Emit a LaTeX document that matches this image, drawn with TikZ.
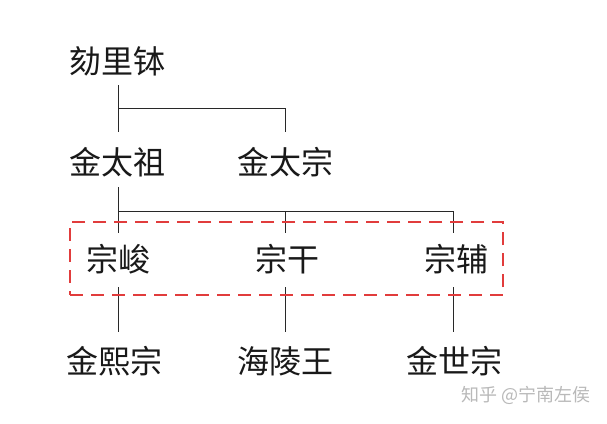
\documentclass[tikz,border=0pt]{standalone}
\usepackage{fontspec}
\newfontfamily\cjk{Noto Sans CJK SC}
\definecolor{treeline}{RGB}{40,40,40}
\definecolor{boxred}{RGB}{225,60,60}
\definecolor{wmgray}{RGB}{185,185,185}
\begin{document}
\begin{tikzpicture}[x=1pt,y=-1pt,
  person/.style={font=\cjk\fontsize{32}{32}\selectfont, inner sep=0pt, text=black!90},
  tree/.style={draw=treeline, line width=1pt},
  groupbox/.style={draw=boxred, line width=1.1pt, dash pattern=on 13pt off 8pt},
  wmark/.style={font=\cjk\fontsize{18}{18}\selectfont, text=wmgray, inner sep=0pt}]
\useasboundingbox (0,0) rectangle (607,423);
\fill[white] (0,0) rectangle (607,423);
% people
\node[person] (helibo)  at (117,61)  {劾里钵};
\node[person] (taizu)   at (117.5,162) {金太祖};
\node[person] (taizong) at (285.5,162) {金太宗};
\node[person] (zongjun) at (118.5,259) {宗峻};
\node[person] (zonggan) at (287,259) {宗干};
\node[person] (zongfu)  at (456,259) {宗辅};
\node[person] (xizong)  at (114,361) {金熙宗};
\node[person] (hailing) at (285,361) {海陵王};
\node[person] (shizong) at (454,361) {金世宗};
% junctions
\coordinate (j1) at (118,108);
\coordinate (j1r) at (285,108);
\coordinate (j2) at (118,211);
\coordinate (j2m) at (285,211);
\coordinate (j2r) at (453,211);
\coordinate (t1) at (118,85);
\coordinate (e1) at (118,132);
\coordinate (e1r) at (285,132);
\coordinate (t2) at (118,187);
\coordinate (e2) at (118,233);
\coordinate (e2m) at (285,233);
\coordinate (e2r) at (453,233);
\coordinate (t3) at (118,287);
\coordinate (t3m) at (285,287);
\coordinate (t3r) at (453,287);
\coordinate (e3) at (118,332);
\coordinate (e3m) at (285,332);
\coordinate (e3r) at (453,332);
% tree lines
\draw[tree] (t1) -- (e1);
\draw[tree] (j1) -- (j1r) -- (e1r);
\draw[tree] (t2) -- (e2);
\draw[tree] (j2) -- (j2r) -- (e2r);
\draw[tree] (j2m) -- (e2m);
\draw[tree] (t3) -- (e3);
\draw[tree] (t3m) -- (e3m);
\draw[tree] (t3r) -- (e3r);
% dashed group box
\node[groupbox, minimum width=433pt, minimum height=73pt, inner sep=0pt] (box) at (286.5,258.5) {};
% watermark
\node[wmark] (wm) at (526,395) {知乎 @宁南左侯};
\end{tikzpicture}
\end{document}
